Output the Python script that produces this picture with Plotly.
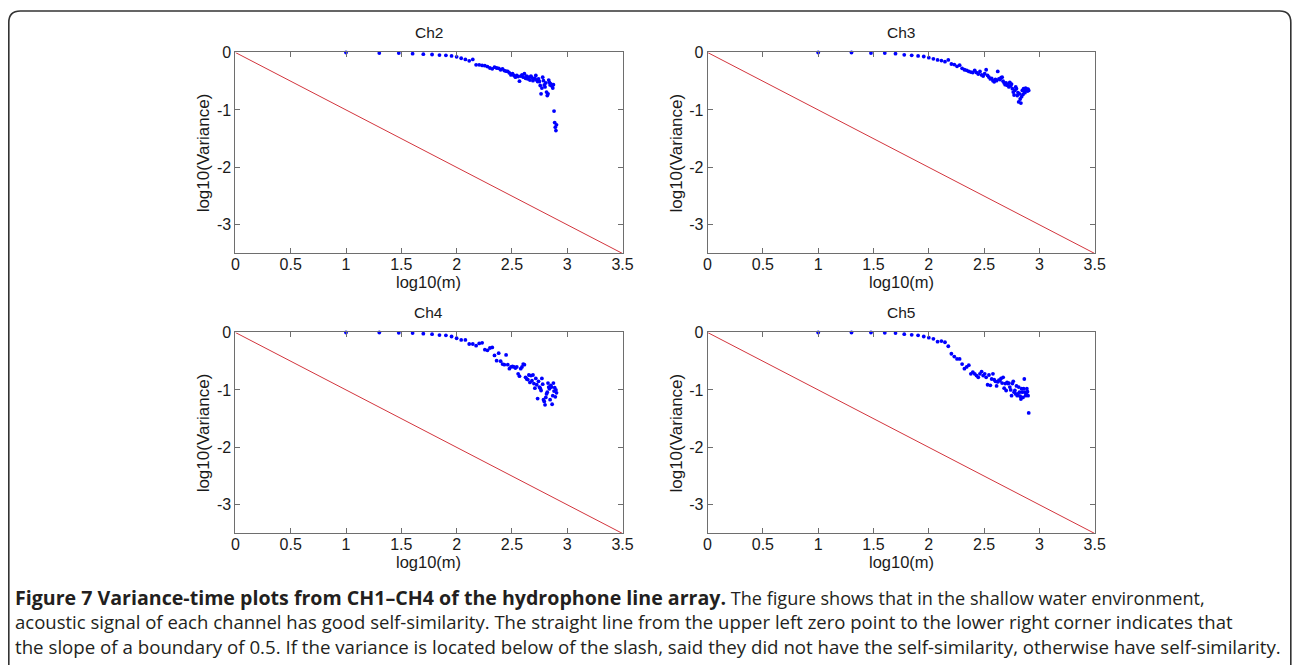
import numpy as np
import plotly.graph_objects as go

W, H = 1292, 665

# aggregation levels m (x axis is log10(m))
M = [10, 20, 30, 40, 50, 60, 70, 80, 90, 100,
     110, 120, 130, 140, 150, 160, 170, 180, 190, 200,
     210, 220, 230, 240, 250, 260, 270, 280, 290, 300,
     310, 320, 330, 340, 350, 360, 370, 380, 390, 400,
     410, 420, 430, 440, 450, 460, 470, 480, 490, 500,
     510, 520, 530, 540, 550, 560, 570, 580, 590, 600,
     610, 620, 630, 640, 650, 660, 670, 680, 690, 700,
     710, 720, 730, 740, 750, 760, 770, 780, 790, 800]

ch2 = [0.0, -0.01, -0.01, -0.02, -0.03, -0.035, -0.045, -0.05, -0.06, -0.075,
       -0.10, -0.12, -0.145, -0.12, -0.215, -0.215, -0.225, -0.23, -0.245, -0.27,
       -0.285, -0.255, -0.27, -0.275, -0.30, -0.285, -0.315, -0.325, -0.33, -0.355,
       -0.39, -0.37, -0.40, -0.43, -0.40, -0.42, -0.50, -0.41, -0.39, -0.43,
       -0.37, -0.45, -0.41, -0.46, -0.43, -0.48, -0.41, -0.44, -0.49, -0.46,
       -0.45, -0.40, -0.48, -0.505, -0.46, -0.505, -0.575, -0.72, -0.62, -0.43,
       -0.49, -0.565, -0.60, -0.53, -0.69, -0.75, -0.72, -0.48, -0.52, -0.565,
       -0.545, -0.575, -0.585, -0.62, -0.56, -1.02, -1.22, -1.30, -1.36, -1.26]

ch3 = [0.0, 0.0, -0.01, -0.01, -0.02, -0.04, -0.05, -0.06, -0.07, -0.09,
       -0.11, -0.13, -0.14, -0.16, -0.13, -0.20, -0.21, -0.24, -0.22, -0.275,
       -0.30, -0.31, -0.33, -0.34, -0.35, -0.31, -0.35, -0.375, -0.33, -0.39,
       -0.41, -0.37, -0.30, -0.40, -0.43, -0.46, -0.45, -0.49, -0.51, -0.47,
       -0.49, -0.33, -0.46, -0.47, -0.44, -0.43, -0.50, -0.53, -0.56, -0.53,
       -0.57, -0.56, -0.60, -0.52, -0.58, -0.55, -0.63, -0.69, -0.74, -0.66,
       -0.60, -0.63, -0.75, -0.70, -0.86, -0.72, -0.81, -0.88, -0.77, -0.66,
       -0.73, -0.63, -0.68, -0.70, -0.62, -0.65, -0.64, -0.67, -0.64, -0.66]

ch4 = [0.0, 0.0, -0.005, -0.01, -0.02, -0.03, -0.045, -0.05, -0.07, -0.10,
       -0.13, -0.13, -0.20, -0.20, -0.23, -0.19, -0.18, -0.30, -0.31, -0.27,
       -0.26, -0.40, -0.49, -0.36, -0.50, -0.55, -0.56, -0.39, -0.56, -0.63,
       -0.60, -0.59, -0.60, -0.62, -0.60, -0.72, -0.76, -0.63, -0.60, -0.55,
       -0.56, -0.78, -0.81, -0.82, -0.74, -0.87, -0.75, -0.84, -0.74, -0.89,
       -0.97, -0.80, -0.91, -1.15, -0.85, -0.95, -0.97, -1.01, -0.80, -0.90,
       -1.17, -1.20, -1.26, -1.13, -1.07, -1.04, -0.88, -0.95, -0.98, -1.17,
       -0.92, -0.95, -1.25, -1.10, -0.88, -1.02, -0.96, -1.12, -1.00, -1.05]

ch5 = [0.0, 0.0, 0.0, -0.005, -0.01, -0.03, -0.04, -0.05, -0.07, -0.09,
       -0.11, -0.16, -0.15, -0.17, -0.24, -0.37, -0.42, -0.46, -0.46, -0.55,
       -0.63, -0.60, -0.57, -0.72, -0.69, -0.72, -0.75, -0.78, -0.72, -0.68,
       -0.75, -0.72, -0.78, -0.91, -0.74, -0.92, -0.81, -0.72, -0.82, -0.85,
       -0.93, -0.86, -0.83, -0.84, -0.80, -0.88, -0.78, -0.97, -0.89, -1.01,
       -0.87, -0.89, -0.88, -0.95, -1.00, -1.10, -0.89, -0.85, -1.04, -1.01,
       -1.07, -0.93, -1.10, -1.07, -0.95, -1.04, -1.11, -1.16, -0.98, -1.04,
       -1.13, -0.98, -0.81, -1.04, -1.10, -1.07, -0.98, -1.03, -1.10, -1.40]

titles = ["Ch2", "Ch3", "Ch4", "Ch5"]
series = [ch2, ch3, ch4, ch5]

# reference line endpoints (log10(m), log10(Variance))
ref_x = [0, 3.5]
ref_y = [0, -3.5]

x_ticks = [0, 0.5, 1, 1.5, 2, 2.5, 3, 3.5]
x_ticktext = ["0", "0.5", "1", "1.5", "2", "2.5", "3", "3.5"]
y_ticks = [0, -1, -2, -3]
y_ticktext = ["0", "-1", "-2", "-3"]

logm = np.log10(np.array(M, dtype=float))

# target pixel boxes of the four plot areas: (left, right, top, bottom)
boxes = [(235, 622, 52, 253), (707, 1094, 52, 253),
         (235, 622, 332, 533), (707, 1094, 332, 533)]

# the photographed page shows a slight offset/scale; compensate for it
S, OX, OY = 0.988, 3.7, 7.5


def px(x):
    return ((x - OX) / S) / W


def py(y):
    return 1 - ((y - OY) / S) / H


fig = go.Figure()
FONT = "Liberation Sans, Arial, sans-serif"
TXT = "#1a1a1a"
AX_COL = "#6e6e6e"
layout = {}
annotations = []
for i, (name, ys, (l, r, t, b)) in enumerate(zip(titles, series, boxes)):
    n = "" if i == 0 else str(i + 1)
    xa, ya = "x" + n, "y" + n
    fig.add_trace(go.Scatter(x=ref_x, y=ref_y, mode="lines",
                             line=dict(color="#d2353d", width=1),
                             xaxis=xa, yaxis=ya, showlegend=False,
                             hoverinfo="skip"))
    fig.add_trace(go.Scatter(x=logm, y=ys, mode="markers",
                             marker=dict(color="#0000ff", size=3.8),
                             xaxis=xa, yaxis=ya, showlegend=False,
                             cliponaxis=False))
    common = dict(showgrid=False, zeroline=False, showline=True, mirror="ticks",
                  linecolor=AX_COL, linewidth=1, ticks="inside", ticklen=5,
                  tickcolor=AX_COL, tickwidth=1,
                  tickfont=dict(family=FONT, size=16, color=TXT))
    layout["xaxis" + n] = dict(common, domain=[px(l), px(r)], range=[0, 3.5],
                               anchor=ya, tickvals=x_ticks, ticktext=x_ticktext,
                               ticklabelstandoff=-4)
    layout["yaxis" + n] = dict(common, domain=[py(b), py(t)], range=[-3.5, 0],
                               anchor=xa, tickvals=y_ticks, ticktext=y_ticktext)
    cx = (l + r) / 2
    annotations.append(dict(text=name, x=px(cx), y=py(t - 20),
                            xref="paper", yref="paper", showarrow=False,
                            xanchor="center", yanchor="middle",
                            font=dict(family=FONT, size=15.5, color=TXT)))
    annotations.append(dict(text="log10(m)", x=px(cx), y=py(b + 29),
                            xref="paper", yref="paper", showarrow=False,
                            xanchor="center", yanchor="middle",
                            font=dict(family=FONT, size=16.5, color=TXT)))
    annotations.append(dict(text="log10(Variance)", x=px(l - 31), y=py((t + b) / 2),
                            xref="paper", yref="paper", showarrow=False,
                            xanchor="center", yanchor="middle", textangle=-90,
                            font=dict(family=FONT, size=17, color=TXT)))

CAP_FONT = "Open Sans, Noto Sans, sans-serif"
cap_lines = [
    "<b><span style=\"font-size:19.6px\">Figure 7 Variance-time plots from CH1–CH4 "
    "of the hydrophone line array.</span></b> "
    "The figure shows that in the shallow water environment,",
    "acoustic signal of each channel has good self-similarity. The straight line from "
    "the upper left zero point to the lower right corner indicates that",
    "the slope of a boundary of 0.5. If the variance is located below of the slash, "
    "said they did not have the self-similarity, otherwise have self-similarity.",
]
cap_sizes = [18.1, 18.55, 18.7]
for k, line in enumerate(cap_lines):
    annotations.append(dict(text=line, x=px(13), y=py(597 + 24.5 * k),
                            xref="paper", yref="paper", showarrow=False,
                            xanchor="left", yanchor="middle",
                            font=dict(family=CAP_FONT, size=cap_sizes[k],
                                      color="#231f20")))

# rounded frame (open at the bottom)
frame = (f"M {px(8.5)} {py(700)} L {px(8.5)} {py(22)} "
         f"Q {px(8.5)} {py(10.5)} {px(20)} {py(10.5)} "
         f"L {px(1279)} {py(10.5)} Q {px(1290)} {py(10.5)} {px(1290)} {py(22)} "
         f"L {px(1290)} {py(700)}")

fig.update_layout(
    width=W, height=H, margin=dict(l=0, r=0, t=0, b=0),
    paper_bgcolor="white", plot_bgcolor="white",
    annotations=annotations,
    shapes=[dict(type="path", path=frame, xref="paper", yref="paper",
                 line=dict(color="#333333", width=1.6))],
    **layout,
)

post = ("document.documentElement.style.margin='0';"
        "document.body.style.margin='0';document.body.style.padding='0';"
        "document.body.style.overflow='hidden';"
        "var d=document.getElementById('{plot_id}');"
        "d.style.position='absolute';d.style.left='0px';d.style.top='0px';")

fig.write_html("out.html", post_script=post, config={"displayModeBar": False})
